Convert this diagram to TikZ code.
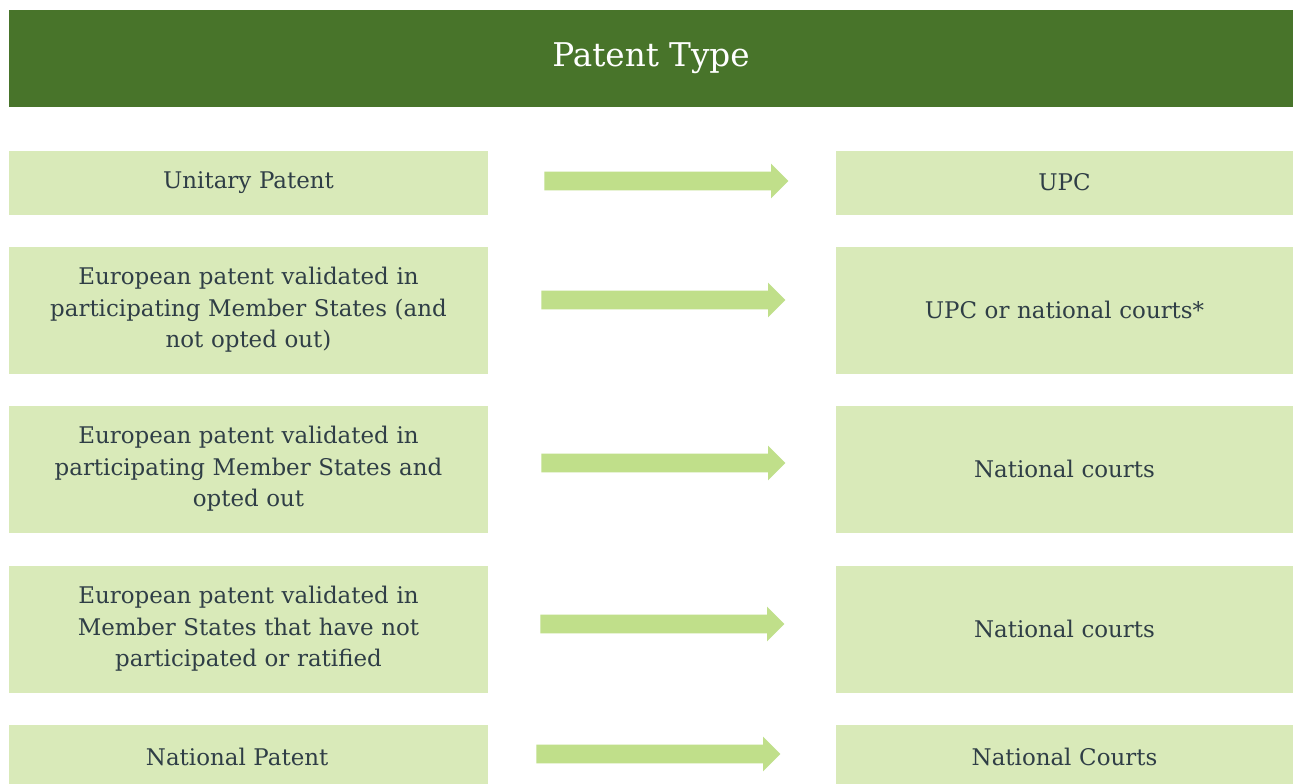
\documentclass[tikz,border=0pt]{standalone}
\usepackage{fontspec}
\setmainfont{DejaVu Serif}
\usetikzlibrary{shapes.arrows}
\definecolor{hdr}{HTML}{48742A}
\definecolor{boxc}{HTML}{D9EAB9}
\definecolor{arrc}{HTML}{C0DF8A}
\definecolor{txtc}{HTML}{2F3E46}
\begin{document}
\begin{tikzpicture}[x=0.75pt,y=-0.75pt,
  box/.style={fill=boxc, draw=none, inner sep=0pt, text=txtc, align=center,
    font=\fontsize{17.2}{23.6}\selectfont},
  lbox/.style={box, minimum width=359.25pt, text width=350pt},
  rbox/.style={box, minimum width=342.75pt, text width=335pt},
  short/.style={minimum height=48pt},
  tall/.style={minimum height=95.25pt},
  blockarrow/.style={single arrow, anchor=tail, fill=arrc, draw=none, inner xsep=0pt, inner ysep=6.75pt,
    minimum height=183pt, minimum width=25.5pt, single arrow head extend=6pt}
]
\useasboundingbox (0,0) rectangle (1293,783);
\clip (0,0) rectangle (1293,783);
\fill[white] (0,0) rectangle (1293,783);
% header
\node[fill=hdr, minimum width=963pt, minimum height=72.75pt, inner sep=0pt,
  text=white, font=\fontsize{24.5}{30}\selectfont] (hdr) at (651,58) {Patent Type};
% left boxes
\node[lbox, short] (l1) at (248.5,182.5) {Unitary Patent};
\node[lbox, tall] (l2) at (248.5,310) {European patent validated in\\participating Member States (and\\not opted out)};
\node[lbox, tall] (l3) at (248.5,469) {European patent validated in\\participating Member States and\\opted out};
\node[lbox, tall] (l4) at (248.5,629) {European patent validated in\\Member States that have not\\participated or ratified};
\node[lbox, short] (l5) at (248.5,756.5) {\hspace*{-17pt}National Patent};
% right boxes
\node[rbox, short] (r1) at (1064.5,182.5) {UPC};
\node[rbox, tall] (r2) at (1064.5,310) {UPC or national courts*};
\node[rbox, tall] (r3) at (1064.5,469) {National courts};
\node[rbox, tall] (r4) at (1064.5,629) {National courts};
\node[rbox, short] (r5) at (1064.5,756.5) {National Courts};
% arrows
\node[blockarrow] (a1) at (544,181) {};
\node[blockarrow] (a2) at (541,300) {};
\node[blockarrow] (a3) at (541,463) {};
\node[blockarrow] (a4) at (540,624) {};
\node[blockarrow] (a5) at (536,754) {};
\end{tikzpicture}
\end{document}
